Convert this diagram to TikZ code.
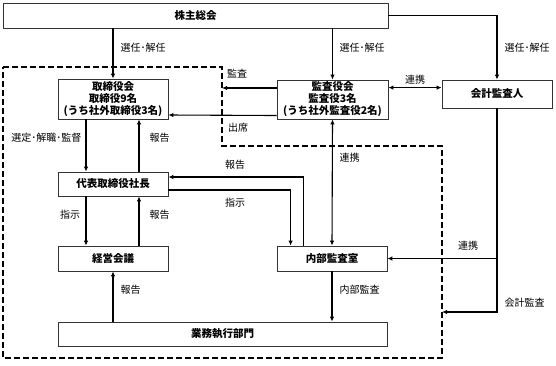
\documentclass[tikz,border=0pt]{standalone}
\usepackage{fontspec}
\setmainfont{Noto Sans CJK JP}
\usetikzlibrary{arrows.meta,positioning,calc}

\begin{document}
\begin{tikzpicture}[x=1pt, y=-1pt,
    every node/.style={font=\fontsize{10}{12}\selectfont},
    box/.style={draw=black!80, line width=0.8pt, inner sep=0pt, align=center,
      font=\fontsize{10.5}{12}\selectfont\bfseries},
    arr/.style={-{Latex[length=5pt,width=4.5pt]}, line width=1.1pt},
    arrs/.style={{Latex[length=5pt,width=4.5pt]}-{Latex[length=5pt,width=4.5pt]}, line width=1.1pt}]
				\useasboundingbox (0,0) rectangle (556,365);
				% company boundary
				\draw[line width=1.2pt, dash pattern=on 6pt off 3pt] (3,67) -- (222,67) -- (222,146) -- (442,146) -- (442,358) -- (3,358) -- cycle;
				\coordinate (dashR) at (222,88); \coordinate (dashB) at (442,312);
				% boxes
				\node[box, minimum width=385, minimum height=25] (sh) at (195.5,15.5) {株主総会};
				\node[box, minimum width=110, minimum height=40] (bod) at (113,99) {取締役会\\取締役9名\\(うち社外取締役3名)};
				\node[box, minimum width=111, minimum height=39] (kan) at (332.5,99.5) {監査役会\\監査役3名\\(うち社外監査役2名)};
				\node[box, minimum width=110, minimum height=28] (acc) at (497,94) {会計監査人};
				\node[box, minimum width=110, minimum height=24] (ceo) at (113,184) {代表取締役社長};
				\node[box, minimum width=110, minimum height=25] (mtg) at (113,258.5) {経営会議};
				\node[box, minimum width=110, minimum height=25] (ia) at (332,258.5) {内部監査室};
				\node[box, minimum width=329, minimum height=24] (biz) at (222.5,334) {業務執行部門};
				% shareholders
				\draw[arr] (sh.south -| bod.north) -- (bod.north);
				\draw[arr] (sh.south -| kan.north) -- (kan.north);
				\draw[arr] (sh.east) -| (acc.north);
				\node[anchor=west] at (117,48) {選任･解任};
				\node[anchor=west] at (336,48) {選任･解任};
				\node[anchor=west] at (501,48) {選任･解任};
				% auditors
				\draw[arrs] ($(kan.north east)+(0,8)$) -- ($(acc.north west)+(0,8)$);
				\node at (415,80) {連携};
				\draw[arr] (kan.west |- dashR) -- (dashR);
				\node at (237,74) {監査};
				\draw[arr] ($(kan.west)+(0,16)$) -- ($(bod.east)+(0,16)$);
				\node at (238,128) {出席};
				\draw[arrs] (kan.south) -- (ia.north);
				\node[anchor=west] at (336,158) {連携};
				% board and president
				\draw[arr] ($(bod.south)+(-27,0)$) -- ($(ceo.north)+(-27,0)$);
				\draw[arr] ($(ceo.north)+(26,0)$) -- ($(bod.south)+(26,0)$);
				\node[anchor=east] at (85,138) {選定･解職･監督};
				\node[anchor=west] at (146,138) {報告};
				\draw[arr] ($(ia.north west)+(27,0)$) |- ($(ceo.east)+(0,-7)$);
				\node at (235,165) {報告};
				\draw[arr] ($(ceo.east)+(0,6)$) -| ($(ia.north west)+(14,0)$);
				\node at (235,203) {指示};
				% management
				\draw[arr] ($(ceo.south)+(-27,0)$) -- ($(mtg.north)+(-27,0)$);
				\draw[arr] ($(mtg.north)+(26,0)$) -- ($(ceo.south)+(26,0)$);
				\node at (70,215) {指示};
				\node[anchor=west] at (146,215) {報告};
				\draw[arr] (biz.north -| mtg.south) -- (mtg.south);
				\node[anchor=west] at (117,290) {報告};
				\draw[arr] (ia.south) -- (ia.south |- biz.north);
				\node[anchor=west] at (336,290) {内部監査};
				% accounting auditor
				\draw[arr] (acc.south) |- (dashB);
				\draw[arr] (ia.east -| acc.south) -- (ia.east);
				\node at (468,246) {連携};
				\node[anchor=west] at (501,303) {会計監査};
			\end{tikzpicture}
\end{document}
